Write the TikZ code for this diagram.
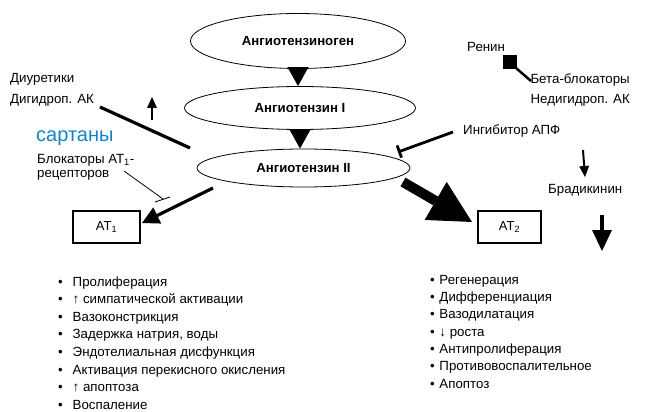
\documentclass[tikz,border=0pt]{standalone}
\usepackage{fontspec}
\setmainfont{Liberation Sans}
\usetikzlibrary{arrows.meta,shapes.geometric}
\definecolor{sartblue}{RGB}{20,130,200}
\begin{document}
\begin{tikzpicture}[x=1pt,y=-1pt,
  oval/.style={draw,ellipse,line width=0.8pt,inner sep=0pt,font=\fontsize{13.2}{15}\selectfont\bfseries},
  recbox/.style={draw,line width=1.8pt,minimum height=32pt,inner sep=0pt,font=\fontsize{13}{15}\selectfont},
  lbl/.style={inner sep=0pt,font=\fontsize{13.3}{15}\selectfont},
  tri/.style={line width=0.1pt,-{Triangle[length=19pt,width=21pt,line width=0pt]}},
  thinarrow/.style={line width=2pt,-{Triangle[length=11pt,width=10pt,line width=0pt]}},
]
\path[use as bounding box] (0,0) rectangle (654,412);

% ovals
\node[oval,minimum width=215pt,minimum height=55pt] (e1) at (298,41) {Ангиотензиноген};
\node[oval,minimum width=231pt,minimum height=43pt] (e2) at (300,108) {Ангиотензин I};
\node[oval,minimum width=213pt,minimum height=38pt] (e3) at (303.5,168) {Ангиотензин II};
\draw[tri] (e1.south) -- (e1.south |- e2.north);
\draw[tri] (e2.south) -- (e2.south |- e3.north);

% receptors
\node[recbox,minimum width=67pt] (at1) at (106.5,227) {AT\textsubscript{1}};
\node[recbox,minimum width=63pt] (at2) at (509.5,227) {AT\textsubscript{2}};

% left labels
\node[lbl,anchor=base west] (diur) at (10,83) {Диуретики};
\node[lbl,anchor=base west] (dhp) at (10,103) {Дигидроп. АК};
\node[inner sep=0pt,anchor=base west,font=\fontsize{20}{22}\selectfont,text=sartblue] (sart) at (36,142) {сартаны};
\node[lbl,anchor=base west] (arb1) at (37,163) {Блокаторы АТ\textsubscript{1}-};
\node[lbl,anchor=base west] (arb2) at (37,177) {рецепторов};

% right labels
\node[lbl,anchor=base west] (renin) at (467,52) {Ренин};
\node[draw,fill=black,minimum size=13pt,inner sep=0pt] (rsq) at (509.5,61.5) {};
\node[lbl,anchor=base east] (beta) at (630,84) {Бета-блокаторы};
\node[lbl,anchor=base east] (ndhp) at (630,103) {Недигидроп. АК};
\node[lbl,anchor=base west] (acei) at (463,135) {Ингибитор АПФ};
\node[lbl,anchor=base west] (brad) at (548,193) {Брадикинин};

% coordinates
\coordinate (du1) at (100,107);
\coordinate (du2) at (190,148);
\coordinate (up1) at (152,120);
\coordinate (up2) at (152,97);
\coordinate (ab1) at (124,171);
\coordinate (ab2) at (163,199);
\coordinate (bar1) at (155,202);
\coordinate (bar2) at (170,197);
\coordinate (ace1) at (453,132);
\coordinate (ace2) at (398,152);
\coordinate (bb) at (531,81);
\coordinate (s1) at (213,188);
\coordinate (t1) at (142,223);
\coordinate (s2) at (403,182);
\coordinate (t2) at (472,222);
\coordinate (br1) at (583,150);
\coordinate (br2) at (585,177);
\coordinate (dn1) at (602,215);
\coordinate (dn2) at (602,251);

% connectors
\draw[line width=3.2pt] (du1) -- (du2);
\draw[thinarrow] (up1) -- (up2);
\draw[line width=0.8pt] (ab1) -- (ab2);
\draw[line width=0.9pt] (bar1) -- (bar2);
\draw[line width=2.8pt,-{Bar[width=13pt]}] (ace1) -- (ace2);
\draw[line width=2.5pt] (rsq.south east) -- (bb);
\draw[line width=3.2pt,-{Triangle[length=17pt,width=18pt,line width=0pt]}] (s1) -- (t1);
\draw[line width=10pt,-{Triangle[length=42pt,width=44pt,line width=0pt]}] (s2) -- (t2);
\draw[thinarrow] (br1) -- (br2);
\draw[line width=4.5pt,-{Triangle[length=21pt,width=20pt,line width=0pt]}] (dn1) -- (dn2);

% left list
\foreach \t [count=\i] in {Пролиферация,↑ симпатической активации,Вазоконстрикция,{Задержка натрия, воды},Эндотелиальная дисфункция,Активация перекисного окисления,↑ апоптоза,Воспаление}
  \node[lbl,anchor=base west] (l\i) at (58,286+17.6*\i-17.6) {\makebox[14.5pt][l]{•}\t};

% right list
\foreach \t [count=\i] in {Регенерация,Дифференциация,Вазодилатация,↓ роста,Антипролиферация,Противовоспалительное,Апоптоз}
  \node[lbl,anchor=base west] (r\i) at (430,284+17.35*\i-17.35) {\makebox[9.3pt][l]{•}\t};
\end{tikzpicture}
\end{document}
